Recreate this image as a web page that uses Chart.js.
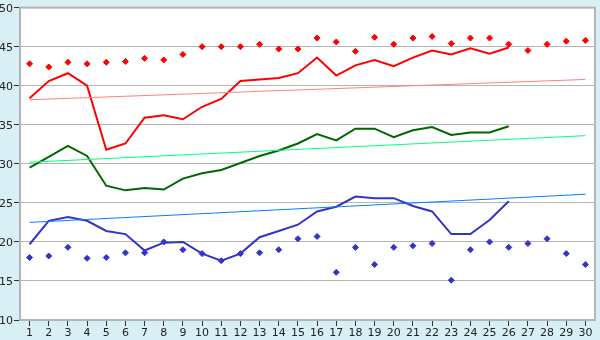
<!DOCTYPE html>
<html lang="en">
<head>
    <meta charset="UTF-8">
    <title>Series chart</title>
    <script src="https://cdn.jsdelivr.net/npm/chart.js"></script>
    <style>
        body {
            margin: 0;
            padding: 0;
            background: #d9eff6;
        }
        .wrap {
            width: 600px;
            height: 340px;
        }
    </style>
</head>
<body>
    <div class="wrap"><canvas id="chart"></canvas></div>

    <script>
        const days = ['1','2','3','4','5','6','7','8','9','10','11','12','13','14','15',
                      '16','17','18','19','20','21','22','23','24','25','26','27','28','29','30'];

        const redLine = [38.4, 40.6, 41.6, 40.0, 31.8, 32.6, 35.9, 36.2, 35.7, 37.3, 38.3, 40.6, 40.8,
                         41.0, 41.6, 43.6, 41.3, 42.6, 43.3, 42.5, 43.6, 44.5, 44.0, 44.8, 44.1, 44.9];
        const greenLine = [29.5, 30.9, 32.3, 31.0, 27.2, 26.6, 26.9, 26.7, 28.1, 28.8, 29.2, 30.1, 31.0,
                           31.7, 32.6, 33.8, 33.0, 34.5, 34.5, 33.4, 34.3, 34.7, 33.7, 34.0, 34.0, 34.8];
        const blueLine = [19.7, 22.7, 23.2, 22.7, 21.4, 21.0, 18.9, 19.9, 20.0, 18.5, 17.6, 18.5, 20.6,
                          21.4, 22.2, 23.9, 24.5, 25.8, 25.6, 25.6, 24.6, 23.9, 21.0, 21.0, 22.8, 25.2];

        const redDots = [42.8, 42.4, 43.0, 42.8, 43.0, 43.1, 43.5, 43.3, 44.0, 45.0, 45.0, 45.0, 45.3, 44.7, 44.7,
                         46.1, 45.6, 44.4, 46.2, 45.3, 46.1, 46.3, 45.4, 46.1, 46.1, 45.3, 44.5, 45.3, 45.7, 45.8];
        const blueDots = [18.0, 18.2, 19.3, 17.9, 18.0, 18.6, 18.6, 20.0, 19.0, 18.5, 17.6, 18.5, 18.6, 19.0, 20.4,
                          20.7, 16.1, 19.3, 17.1, 19.3, 19.5, 19.8, 15.1, 19.0, 20.0, 19.3, 19.8, 20.4, 18.5, 17.1];

        // trend lines: value at day 1 and day 30
        const redTrend = [38.2, 40.8];
        const greenTrend = [30.2, 33.6];
        const blueTrend = [22.5, 26.1];

        const yTicks = [10, 15, 20, 25, 30, 35, 40, 45, 50];

        function trendData(ends) {
            return days.map((d, i) => i === 0 ? ends[0] : (i === days.length - 1 ? ends[1] : null));
        }

        const plotBg = {
            id: 'plotBg',
            beforeDraw(chart) {
                const { ctx, chartArea: a } = chart;
                ctx.save();
                ctx.fillStyle = '#d9eff6';
                ctx.fillRect(0, 0, chart.width, chart.height);
                ctx.fillStyle = '#ffffff';
                ctx.fillRect(a.left, a.top, a.right - a.left, a.bottom - a.top);
                ctx.restore();
            },
            afterDraw(chart) {
                const { ctx, chartArea: a } = chart;
                ctx.save();
                ctx.strokeStyle = '#b4b4b4';
                ctx.lineWidth = 2;
                ctx.strokeRect(a.left, a.top, a.right - a.left, a.bottom - a.top);
                ctx.restore();
            }
        };

        const lineStyle = (color) => ({
            borderColor: color,
            backgroundColor: color,
            borderWidth: 2,
            pointRadius: 0,
            tension: 0,
            fill: false
        });

        const trendStyle = (color) => ({
            borderColor: color,
            backgroundColor: color,
            borderWidth: 1,
            pointRadius: 0,
            spanGaps: true,
            fill: false
        });

        const dotStyle = (color) => ({
            borderColor: color,
            backgroundColor: color,
            showLine: false,
            pointStyle: 'rectRot',
            pointRadius: 3,
            pointBorderWidth: 1
        });

        new Chart(document.getElementById('chart'), {
            type: 'line',
            data: {
                labels: days,
                datasets: [
                    { data: trendData(redTrend), ...trendStyle('#ff8080') },
                    { data: trendData(greenTrend), ...trendStyle('#00ff80') },
                    { data: trendData(blueTrend), ...trendStyle('#0080ff') },
                    { data: redDots, ...dotStyle('#ff0000') },
                    { data: blueDots, ...dotStyle('#3333cc') },
                    { data: redLine, ...lineStyle('#ff0000') },
                    { data: greenLine, ...lineStyle('#006600') },
                    { data: blueLine, ...lineStyle('#3333cc') }
                ]
            },
            options: {
                responsive: true,
                maintainAspectRatio: false,
                animation: false,
                layout: { padding: { top: 5, right: 5, left: 0, bottom: 0 } },
                plugins: {
                    legend: { display: false },
                    tooltip: { enabled: false }
                },
                scales: {
                    x: {
                        offset: true,
                        grid: {
                            drawOnChartArea: false,
                            drawTicks: true,
                            tickLength: 6,
                            color: '#333333',
                            offset: false
                        },
                        border: { display: false },
                        ticks: {
                            color: '#222222',
                            font: { family: 'DejaVu Sans', size: 11 },
                            padding: 1,
                            maxRotation: 0,
                            autoSkip: false
                        },
                        afterFit(scale) { scale.height = 20; }
                    },
                    y: {
                        min: 10,
                        max: 50,
                        afterBuildTicks(scale) {
                            scale.ticks = yTicks.map(v => ({ value: v }));
                        },
                        grid: {
                            color: '#b4b4b4',
                            lineWidth: 1,
                            tickLength: 6,
                            tickColor: '#333333'
                        },
                        border: { display: false },
                        ticks: {
                            color: '#222222',
                            font: { family: 'DejaVu Sans', size: 11 },
                            padding: 1,
                            labelOffset: 1.5
                        },
                        afterFit(scale) { scale.width = 20; }
                    }
                }
            },
            plugins: [plotBg]
        });
    </script>
</body>
</html>
